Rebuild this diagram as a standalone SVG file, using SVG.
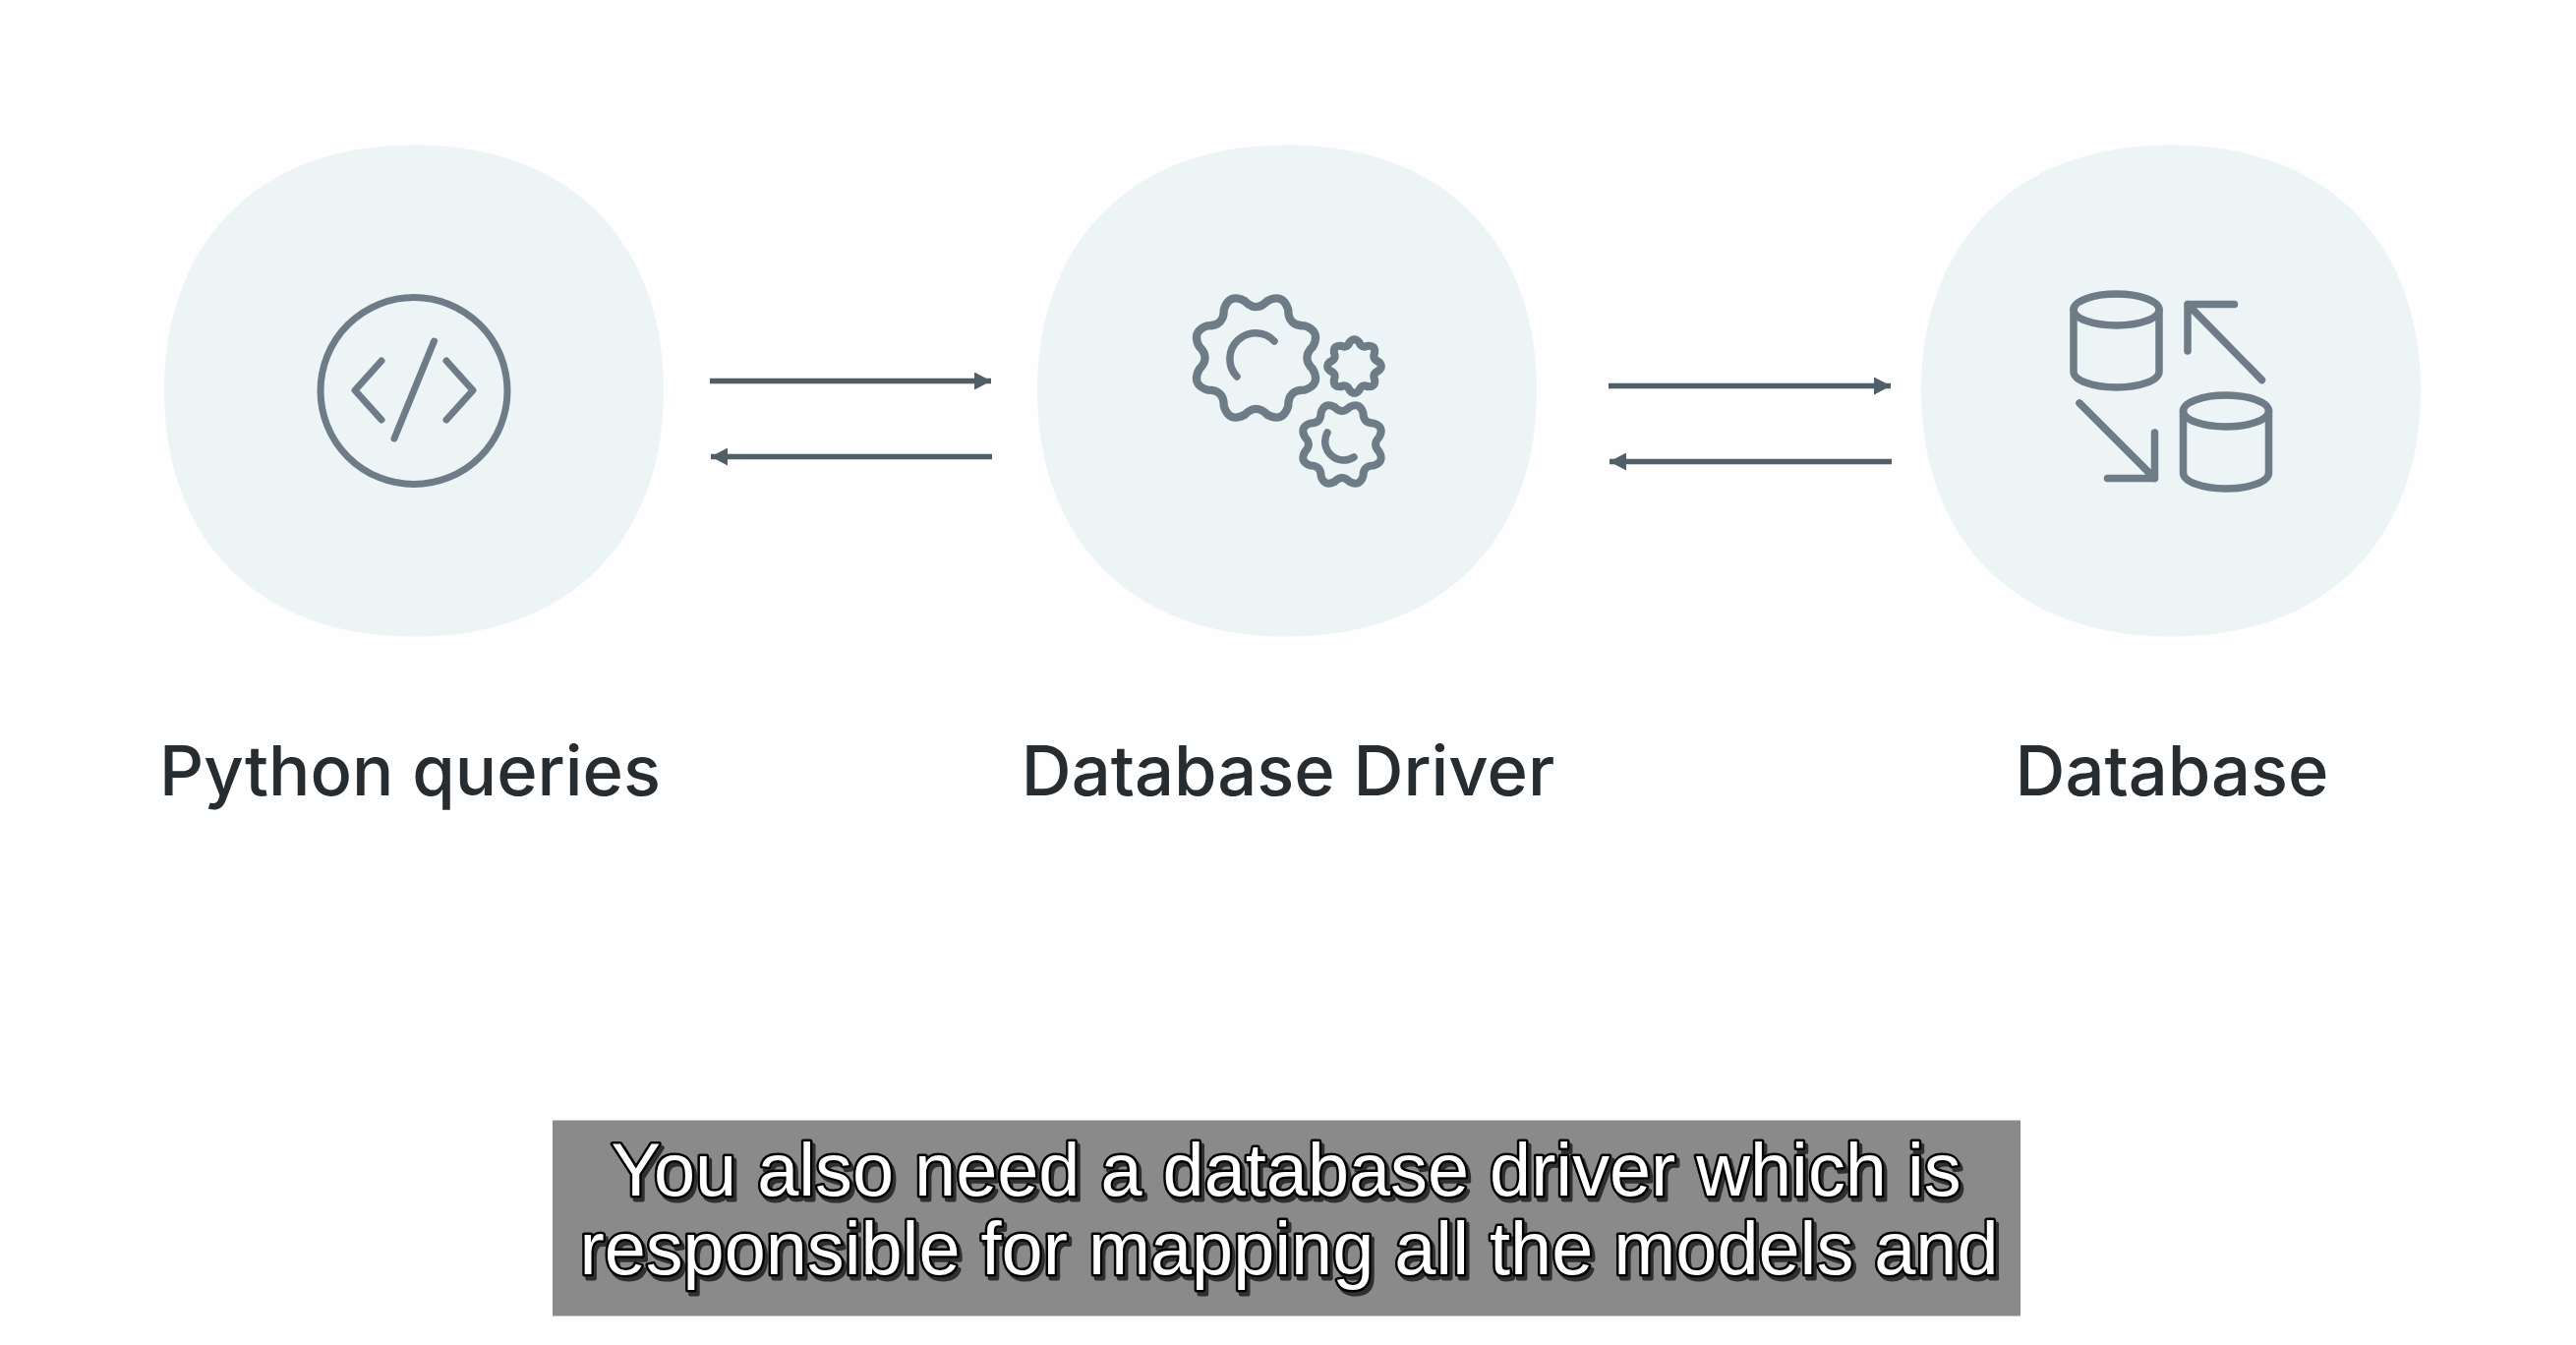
<svg xmlns="http://www.w3.org/2000/svg" width="2620" height="1368" viewBox="0 0 2620 1368">
<style>
.blob{fill:#edf4f6}
.ic{fill:none;stroke:#6e7c87;stroke-width:7.5;stroke-linecap:round;stroke-linejoin:round}
.conn{stroke:#505e67;stroke-width:5.5;fill:none}
.label{font-family:"Inter","Noto Sans",sans-serif;font-weight:500;font-size:70.5px;fill:#262c30;text-anchor:middle}
.cap{font-family:"Liberation Sans",Arial,sans-serif;font-size:75.7px;fill:#fff;stroke:#000;stroke-width:5px;paint-order:stroke;stroke-linejoin:round;text-anchor:middle}
</style>
<defs>
<marker id="ah" markerUnits="userSpaceOnUse" markerWidth="18" markerHeight="18" refX="17" refY="9" orient="auto-start-reverse"><path d="M0 0L17 9L0 18Z" fill="#505e67"/></marker>
<path id="gear" d="M90.2 -17.9Q72 0 90.2 17.9Q103.5 42.9 76.5 51.1Q50.9 50.9 51.1 76.5Q42.9 103.5 17.9 90.2Q0 72 -17.9 90.2Q-42.9 103.5 -51.1 76.5Q-50.9 50.9 -76.5 51.1Q-103.5 42.9 -90.2 17.9Q-72 0 -90.2 -17.9Q-103.5 -42.9 -76.5 -51.1Q-50.9 -50.9 -51.1 -76.5Q-42.9 -103.5 -17.9 -90.2Q0 -72 17.9 -90.2Q42.9 -103.5 51.1 -76.5Q50.9 -50.9 76.5 -51.1Q103.5 -42.9 90.2 -17.9Z"/>
<path id="blobshape" d="M0 -250C165 -250 254 -145 254 0C254 145 165 250 0 250C-165 250 -254 145 -254 0C-254 -145 -165 -250 0 -250Z"/>
<filter id="sh" x="-5%" y="-20%" width="110%" height="150%"><feDropShadow dx="3" dy="4" stdDeviation="0.6" flood-color="#222" flood-opacity="0.85"/></filter>
</defs>
<rect width="2620" height="1368" fill="#fefefe"/>
<g id="node-python">
<use href="#blobshape" class="blob" x="421" y="397.5"/>
<circle class="ic" style="stroke-width:7" cx="421" cy="397.5" r="95"/>
<path class="ic" style="stroke-width:7" d="M388 367L361 397L388 427M454 367L481 397L454 427M441.5 347L401 446"/>
<text class="label" x="417" y="809">Python queries</text>
</g>
<g id="node-driver">
<use href="#blobshape" class="blob" x="1309" y="397.5"/>
<use href="#gear" class="ic" style="stroke-width:13" transform="translate(1277.5 364) scale(.64)"/>
<use href="#gear" class="ic" style="stroke-width:30" transform="translate(1377.5 372.5) rotate(22.5) scale(.27)"/>
<use href="#gear" class="ic" style="stroke-width:19" transform="translate(1365 452) scale(.42)"/>
<path class="ic" d="M1258 383A26 26 0 0 1 1296 347M1350 440A19 19 0 0 0 1377 465"/>
<text class="label" x="1310" y="809">Database Driver</text>
</g>
<g id="node-database">
<use href="#blobshape" class="blob" x="2208" y="397.5"/>
<ellipse class="ic" cx="2152.5" cy="315" rx="43.5" ry="16"/>
<path class="ic" d="M2109 315V378A43.5 16 0 0 0 2196 378V315"/>
<ellipse class="ic" cx="2264" cy="418" rx="43.5" ry="16"/>
<path class="ic" d="M2220.5 418V481A43.5 16 0 0 0 2307.5 481V418"/>
<path class="ic" d="M2300.5 386.5L2225 309.5M2225 357V309.5H2272.5M2115 410L2191.5 486.5M2191.5 440V486.5H2143.5"/>
<text class="label" x="2209" y="809">Database</text>
</g>
<g id="connectors">
<line class="conn" x1="722" y1="387.5" x2="1008" y2="387.5" marker-end="url(#ah)"/>
<line class="conn" x1="1009" y1="464.5" x2="723" y2="464.5" marker-end="url(#ah)"/>
<line class="conn" x1="1636" y1="392.5" x2="1923" y2="392.5" marker-end="url(#ah)"/>
<line class="conn" x1="1924" y1="469.5" x2="1637" y2="469.5" marker-end="url(#ah)"/>
</g>
<g id="caption">
<rect x="562" y="1139.5" width="1493" height="199" fill="#8a8a8a"/>
<g filter="url(#sh)">
<text class="cap" x="1308" y="1216">You also need a database driver which is</text>
<text class="cap" x="1311" y="1296">responsible for mapping all the models and</text>
</g>
</g>
</svg>
